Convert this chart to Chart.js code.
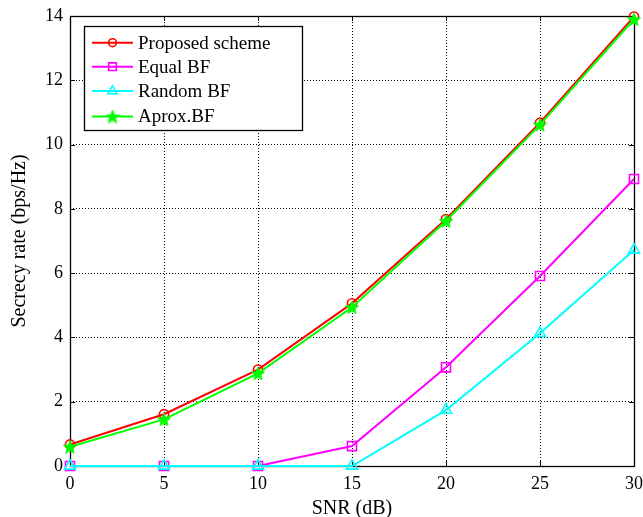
<!DOCTYPE html>
<html>
<head>
<meta charset="utf-8">
<script src="https://cdn.jsdelivr.net/npm/chart.js@4/dist/chart.umd.min.js"></script>
<style>
html,body{margin:0;padding:0;background:#fff;}
canvas{display:block;}
</style>
</head>
<body>
<canvas id="c" width="643" height="517"></canvas>
<script>
// ---- data ----
const snr = [0, 5, 10, 15, 20, 25, 30];
const proposed = [0.67, 1.61, 3.0, 5.06, 7.68, 10.68, 13.98];
const equalBF = [0, 0, 0, 0.62, 3.07, 5.91, 8.93];
const randomBF = [0, 0, 0, 0, 1.74, 4.13, 6.72];
const aproxBF = [0.6, 1.45, 2.88, 4.94, 7.62, 10.62, 13.9];
const seriesNames = ['Proposed scheme', 'Equal BF', 'Random BF', 'Aprox.BF'];
const xTicks = [0, 5, 10, 15, 20, 25, 30];
const yTicks = [0, 2, 4, 6, 8, 10, 12, 14];

const FONT = "'Liberation Serif', 'Times New Roman', serif";

// filled pentagram marker
function makeStar(color, size) {
  const c = document.createElement('canvas');
  c.width = size; c.height = size;
  const g = c.getContext('2d');
  const cx = size / 2, cy = size / 2 + 0.7, R = size / 2, r = R * 0.42;
  g.beginPath();
  for (let i = 0; i < 10; i++) {
    const rad = i % 2 === 0 ? R : r;
    const a = -Math.PI / 2 + i * Math.PI / 5;
    const px = cx + rad * Math.cos(a), py = cy + rad * Math.sin(a);
    if (i === 0) g.moveTo(px, py); else g.lineTo(px, py);
  }
  g.closePath();
  g.fillStyle = color;
  g.fill();
  g.strokeStyle = color;
  g.lineWidth = 1;
  g.stroke();
  return c;
}
const starImg = makeStar('#00ff00', 14);

function pts(arr) { return snr.map((x, i) => ({ x: x, y: arr[i] })); }

const datasets = [
  { label: seriesNames[0], data: pts(proposed), borderColor: '#ff0000', pointStyle: 'circle', pointRadius: 4.6, order: 4 },
  { label: seriesNames[1], data: pts(equalBF), borderColor: '#ff00ff', pointStyle: 'rect', pointRadius: 6.4, order: 3 },
  { label: seriesNames[2], data: pts(randomBF), borderColor: '#00ffff', pointStyle: 'triangle', pointRadius: 6.3, order: 2 },
  { label: seriesNames[3], data: pts(aproxBF), borderColor: '#00ff00', pointStyle: starImg, pointRadius: 7, order: 1 }
].map(d => Object.assign({
  borderWidth: 2,
  pointBorderColor: d.borderColor,
  pointBackgroundColor: 'rgba(0,0,0,0)',
  pointBorderWidth: 1.6,
  pointHoverRadius: d.pointRadius,
  tension: 0,
  fill: false,
  clip: false
}, d));

// box + inward ticks
const boxPlugin = {
  id: 'box',
  beforeDatasetsDraw(chart) {
    const { ctx, chartArea: a, scales } = chart;
    ctx.save();
    ctx.strokeStyle = '#000';
    ctx.lineWidth = 1;
    const tl = 5;
    ctx.beginPath();
    xTicks.forEach(v => {
      const x = Math.round(scales.x.getPixelForValue(v)) + 0.5;
      ctx.moveTo(x, a.bottom); ctx.lineTo(x, a.bottom - tl);
      ctx.moveTo(x, a.top); ctx.lineTo(x, a.top + tl);
    });
    yTicks.forEach(v => {
      const y = Math.round(scales.y.getPixelForValue(v)) + 0.5;
      ctx.moveTo(a.left, y); ctx.lineTo(a.left + tl, y);
      ctx.moveTo(a.right, y); ctx.lineTo(a.right - tl, y);
    });
    ctx.stroke();
    ctx.lineWidth = 1.3;
    ctx.strokeRect(Math.round(a.left) + 0.5, Math.round(a.top) + 0.5,
      Math.round(a.right - a.left), Math.round(a.bottom - a.top));
    ctx.restore();
  }
};

// legend drawn inside the plot
const legendPlugin = {
  id: 'innerLegend',
  afterDraw(chart) {
    const { ctx } = chart;
    const bx = 84.5, by = 26.5, bw = 218, bh = 104;
    ctx.save();
    ctx.fillStyle = '#fff';
    ctx.fillRect(bx, by, bw, bh);
    ctx.strokeStyle = '#000';
    ctx.lineWidth = 1.3;
    ctx.strokeRect(bx, by, bw, bh);
    const rows = [42.7, 66.7, 91, 116.5];
    chart.data.datasets.forEach((ds, i) => {
      const y = rows[i];
      ctx.strokeStyle = ds.borderColor;
      ctx.lineWidth = 2;
      ctx.beginPath();
      ctx.moveTo(92, y); ctx.lineTo(133, y);
      ctx.stroke();
      if (ds.pointStyle instanceof HTMLCanvasElement) {
        const img = ds.pointStyle;
        ctx.drawImage(img, 112.5 - img.width / 2, y - img.height / 2);
      } else {
        ctx.lineWidth = 1.6;
        ctx.fillStyle = 'rgba(0,0,0,0)';
        ctx.strokeStyle = ds.borderColor;
        Chart.helpers.drawPoint(ctx, { pointStyle: ds.pointStyle, radius: ds.pointRadius * 0.85, rotation: 0, borderWidth: 1.6 }, 112.5, y);
      }
      ctx.fillStyle = '#000';
      ctx.font = '19px ' + FONT;
      ctx.textBaseline = 'middle';
      ctx.textAlign = 'left';
      ctx.fillText(ds.label, 138, y + 1);
    });
    ctx.restore();
  }
};

new Chart(document.getElementById('c'), {
  type: 'line',
  data: { datasets: datasets },
  options: {
    responsive: false,
    animation: false,
    devicePixelRatio: 1,
    layout: { padding: { top: 16, right: 9, left: 0, bottom: 0 } },
    plugins: { legend: { display: false }, tooltip: { enabled: false } },
    events: [],
    scales: {
      x: {
        type: 'linear', min: 0, max: 30,
        afterBuildTicks(s) { s.ticks = xTicks.map(v => ({ value: v })); },
        afterFit(s) { s.height = 51; s.paddingLeft = 0; s.paddingRight = 0; },
        grid: { color: '#000', lineWidth: 1, drawTicks: false },
        border: { display: false, dash: [1, 2] },
        ticks: { color: '#000', font: { family: FONT, size: 18 }, padding: 7, maxRotation: 0 },
        title: { display: true, text: 'SNR (dB)', color: '#000', font: { family: FONT, size: 20 }, padding: { top: 0, bottom: -4 } }
      },
      y: {
        type: 'linear', min: 0, max: 14,
        afterBuildTicks(s) { s.ticks = yTicks.map(v => ({ value: v })); },
        afterFit(s) { s.width = 70; s.paddingTop = 0; s.paddingBottom = 0; },
        grid: { color: '#000', lineWidth: 1, drawTicks: false },
        border: { display: false, dash: [1, 2] },
        ticks: { color: '#000', font: { family: FONT, size: 18 }, padding: 7 },
        title: { display: true, text: 'Secrecy rate (bps/Hz)', color: '#000', font: { family: FONT, size: 20 }, padding: { top: 8, bottom: 0 } }
      }
    }
  },
  plugins: [boxPlugin, legendPlugin]
});
</script>
</body>
</html>
